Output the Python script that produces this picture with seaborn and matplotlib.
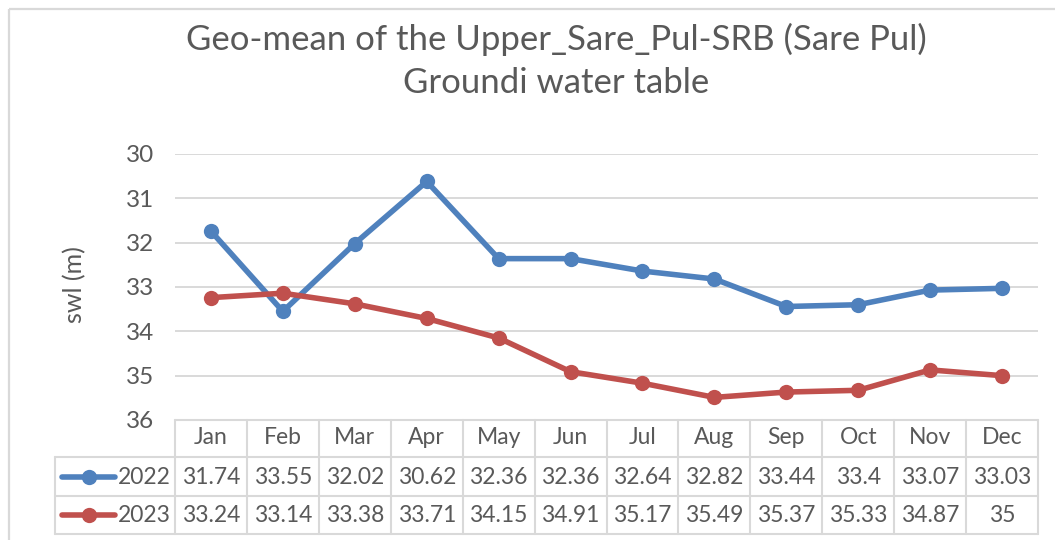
import numpy as np
import pandas as pd
import matplotlib
matplotlib.use("Agg")
import matplotlib.pyplot as plt
from matplotlib.lines import Line2D
from matplotlib.patches import Rectangle
import seaborn as sns

months = ["Jan", "Feb", "Mar", "Apr", "May", "Jun", "Jul", "Aug", "Sep", "Oct", "Nov", "Dec"]
swl_2022 = [31.74, 33.55, 32.02, 30.62, 32.36, 32.36, 32.64, 32.82, 33.44, 33.4, 33.07, 33.03]
swl_2023 = [33.24, 33.14, 33.38, 33.71, 34.15, 34.91, 35.17, 35.49, 35.37, 35.33, 34.87, 35]
labels_2022 = ["31.74", "33.55", "32.02", "30.62", "32.36", "32.36", "32.64", "32.82", "33.44", "33.4", "33.07", "33.03"]
labels_2023 = ["33.24", "33.14", "33.38", "33.71", "34.15", "34.91", "35.17", "35.49", "35.37", "35.33", "34.87", "35"]
series = ["2022", "2023"]
yticks = [30, 31, 32, 33, 34, 35, 36]
title = "Geo-mean of the Upper_Sare_Pul-SRB (Sare Pul)\nGroundi water table"

sns.set_theme(style="white")
plt.rcParams["font.family"] = ["Lato", "DejaVu Sans"]

TXT = "#595959"
GRID = "#D9D9D9"
colors = {"2022": "#4F81BD", "2023": "#C0504D"}

df = pd.DataFrame({
    "month": months * 2,
    "swl": swl_2022 + swl_2023,
    "year": ["2022"] * 12 + ["2023"] * 12,
})

W, H = 1055, 540
fig = plt.figure(figsize=(W / 100, H / 100), dpi=100)

def fx(px):
    return px / W

def fy(py):
    return 1 - py / H

L, R, T, B = 175, 1038, 154, 420
ax = fig.add_axes([fx(L), fy(B), fx(R - L), (B - T) / H])
sns.lineplot(data=df, x="month", y="swl", hue="year", palette=colors, sort=False,
             marker="o", markersize=11, markeredgewidth=0, linewidth=4,
             legend=False, ax=ax, zorder=3)
ax.set_xlim(-0.5, 11.5)
ax.set_ylim(36, 30)
ax.set_yticks(yticks)
ax.set_yticklabels([str(t) for t in yticks])
ax.yaxis.grid(True, color=GRID, linewidth=1.4)
ax.set_axisbelow(True)
for s in ax.spines.values():
    s.set_visible(False)
ax.tick_params(axis="y", length=0, pad=15, labelsize=17.5, labelcolor=TXT)
ax.set_xticks([])
ax.set_xlabel("")
ax.set_ylabel("")
ax.patch.set_alpha(0)

# overlay axes in pixel coordinates for table frame, border
ov = fig.add_axes([0, 0, 1, 1], zorder=-1)
ov.set_xlim(0, W)
ov.set_ylim(H, 0)
ov.axis("off")
ov.add_patch(Rectangle((9, 9), W + 20, H + 20, fill=False, edgecolor=GRID, linewidth=1.6))

rows_y = [420, 457, 496, 534]
colw = (R - L) / 12
lk = dict(color=GRID, linewidth=1.5)
ov.plot([L, R], [rows_y[0], rows_y[0]], **lk)
for yy in rows_y[1:]:
    ov.plot([55, R], [yy, yy], **lk)
ov.plot([55, 55], [rows_y[1], rows_y[3]], **lk)
for i in range(13):
    xx = L + i * colw
    ov.plot([xx, xx], [rows_y[0], rows_y[3]], **lk)

# table text via the data x scale
tr = ax.get_xaxis_transform()
def ay(py):
    return (B - py) / (B - T)

tfs = 16.5
for i, m in enumerate(months):
    ax.text(i, ay(438), m, transform=tr, ha="center", va="center", fontsize=tfs, color=TXT, clip_on=False)
    ax.text(i, ay(477), labels_2022[i], transform=tr, ha="center", va="center", fontsize=tfs, color=TXT, clip_on=False)
    ax.text(i, ay(515), labels_2023[i], transform=tr, ha="center", va="center", fontsize=tfs, color=TXT, clip_on=False)

# legend keys
for name, yy in zip(series, [477, 515]):
    ov.add_line(Line2D([62, 115], [yy, yy], color=colors[name], linewidth=4,
                       solid_capstyle="round"))
    ov.add_line(Line2D([88.5], [yy], color=colors[name], marker="o", markersize=11,
                       markeredgewidth=0))
    ov.text(144, yy, name, ha="center", va="center", fontsize=tfs, color=TXT)

fig.text(fx(556), fy(61), title, ha="center", va="center", fontsize=25, color=TXT, linespacing=1.45)
fig.text(fx(75), fy(285), "swl (m)", ha="center", va="center", rotation=90, fontsize=18, color=TXT)

fig.savefig("out.png", dpi=100, facecolor="white")
